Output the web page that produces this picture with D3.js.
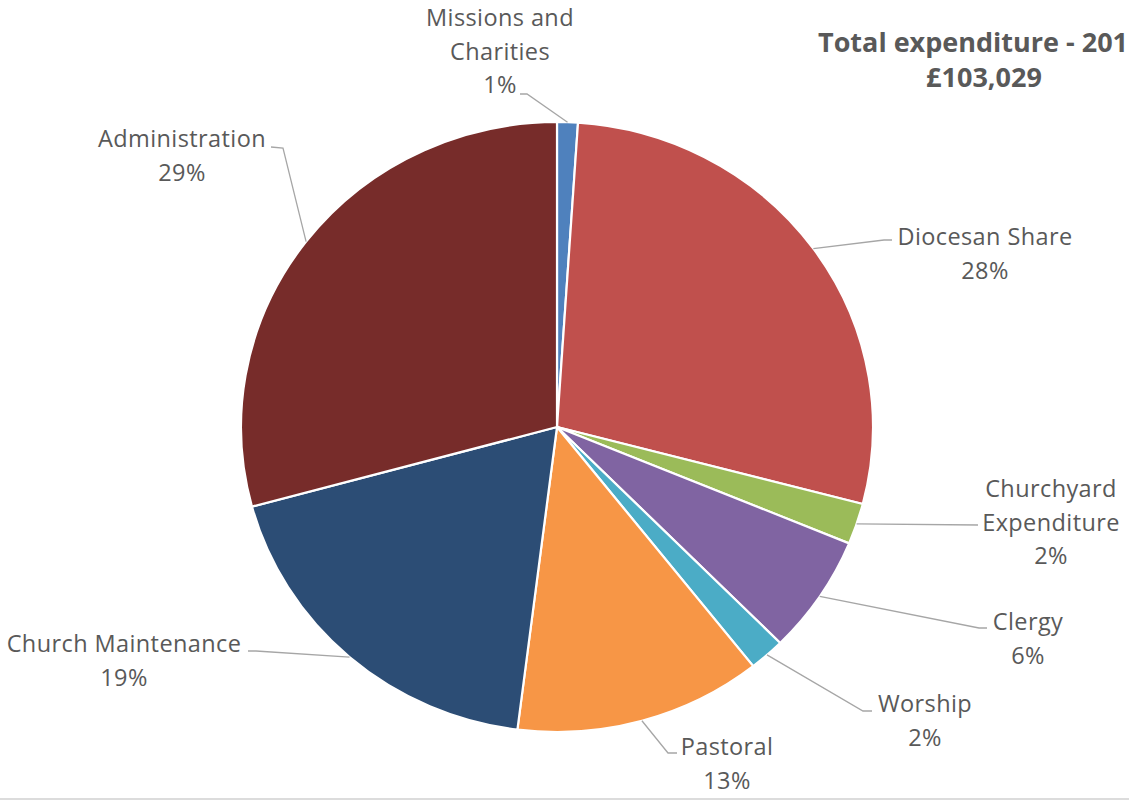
<!DOCTYPE html>
<html>
<head>
<meta charset="utf-8">
<script src="https://cdn.jsdelivr.net/npm/d3@7"></script>
<style>
  body { margin: 0; background: #fff; }
  svg { display: block; }
  .lbl { font-family: "Open Sans", Lato, sans-serif; font-size: 23.5px; letter-spacing: 0.4px; fill: #595959; }
  .ttl { font-family: "Open Sans", Lato, sans-serif; font-size: 27px; font-weight: bold; fill: #595959; }
  .leader { fill: none; stroke: #a6a6a6; stroke-width: 1.3; }
</style>
</head>
<body>
<script>
// slices in drawing order, clockwise from 12 o'clock
var categories = ["Missions and Charities", "Diocesan Share", "Churchyard Expenditure", "Clergy",
                  "Worship", "Pastoral", "Church Maintenance", "Administration"];
var shares = [1.06, 28.0, 2.17, 6.29, 1.82, 12.66, 18.8, 29.2];   // percent of total
var pctLabels = ["1%", "28%", "2%", "6%", "2%", "13%", "19%", "29%"];
var colors = ["#4f81bd", "#c0504d", "#9bbb59", "#8064a2", "#4bacc6", "#f79646", "#2c4d75", "#772c2a"];
var titleLines = ["Total expenditure - 201", "£103,029"];

var width = 1129, height = 803;
var cx = 557, cy = 427, r = 316, sy = 305 / 316;

// label layout: text lines, centre x, first baseline, leader elbow/end points
var layout = [
  { lines: ["Missions and", "Charities"], x: 500, y: 26, path: [[527, 94], [520, 94]] },
  { lines: ["Diocesan Share"], x: 985, y: 245, path: [[884, 240], [892, 240]] },
  { lines: ["Churchyard", "Expenditure"], x: 1051, y: 497, path: [[978, 525]] },
  { lines: ["Clergy"], x: 1028, y: 630, path: [[979, 628], [987, 628]] },
  { lines: ["Worship"], x: 925, y: 712, path: [[863, 711], [872, 711]] },
  { lines: ["Pastoral"], x: 727, y: 755, path: [[668, 753], [677, 753]] },
  { lines: ["Church Maintenance"], x: 124, y: 652, path: [[256, 651], [248, 651]] },
  { lines: ["Administration"], x: 182, y: 147, path: [[283, 148], [271, 147]] }
];

var data = categories.map(function(c, i) {
  return { name: c, value: shares[i], pct: pctLabels[i], color: colors[i], lay: layout[i] };
});

var svg = d3.select("body").append("svg")
  .attr("width", width)
  .attr("height", height);

var pie = d3.pie().sort(null).value(function(d) { return d.value; });
var arcs = pie(data);
var arc = d3.arc().innerRadius(0).outerRadius(r);

var g = svg.append("g")
  .attr("transform", "translate(" + cx + "," + cy + ") scale(1," + sy + ")");

g.selectAll("path")
  .data(arcs)
  .enter().append("path")
    .attr("d", arc)
    .attr("fill", function(d) { return d.data.color; })
    .attr("stroke", "#fff")
    .attr("stroke-width", 2.2)
    .attr("vector-effect", "non-scaling-stroke");

// leader lines start on the outer edge at each slice's mid angle
var line = d3.line();
svg.selectAll(".leader")
  .data(arcs)
  .enter().append("path")
    .attr("class", "leader")
    .attr("d", function(d) {
      var a = (d.startAngle + d.endAngle) / 2;
      var p0 = [cx + r * Math.sin(a), cy - r * Math.cos(a) * sy];
      return line([p0].concat(d.data.lay.path));
    });

// slice labels
var lh = 33.5;
var lbl = svg.selectAll(".lbl")
  .data(data)
  .enter().append("text")
    .attr("class", "lbl")
    .attr("text-anchor", "middle");

lbl.each(function(d) {
  var t = d3.select(this);
  var rows = d.lay.lines.concat([d.pct]);
  rows.forEach(function(s, i) {
    t.append("tspan")
      .attr("x", d.lay.x)
      .attr("y", d.lay.y + i * lh)
      .text(s);
  });
});

// title
svg.append("text")
  .attr("class", "ttl")
  .attr("x", 818)
  .attr("y", 52)
  .text(titleLines[0]);

svg.append("text")
  .attr("class", "ttl")
  .attr("x", 984)
  .attr("y", 87)
  .attr("text-anchor", "middle")
  .text(titleLines[1]);

// faint frame line at the bottom
svg.append("line")
  .attr("x1", 0).attr("x2", width)
  .attr("y1", 799).attr("y2", 799)
  .attr("stroke", "#d0d0d0")
  .attr("stroke-width", 1.5);
</script>
</body>
</html>
